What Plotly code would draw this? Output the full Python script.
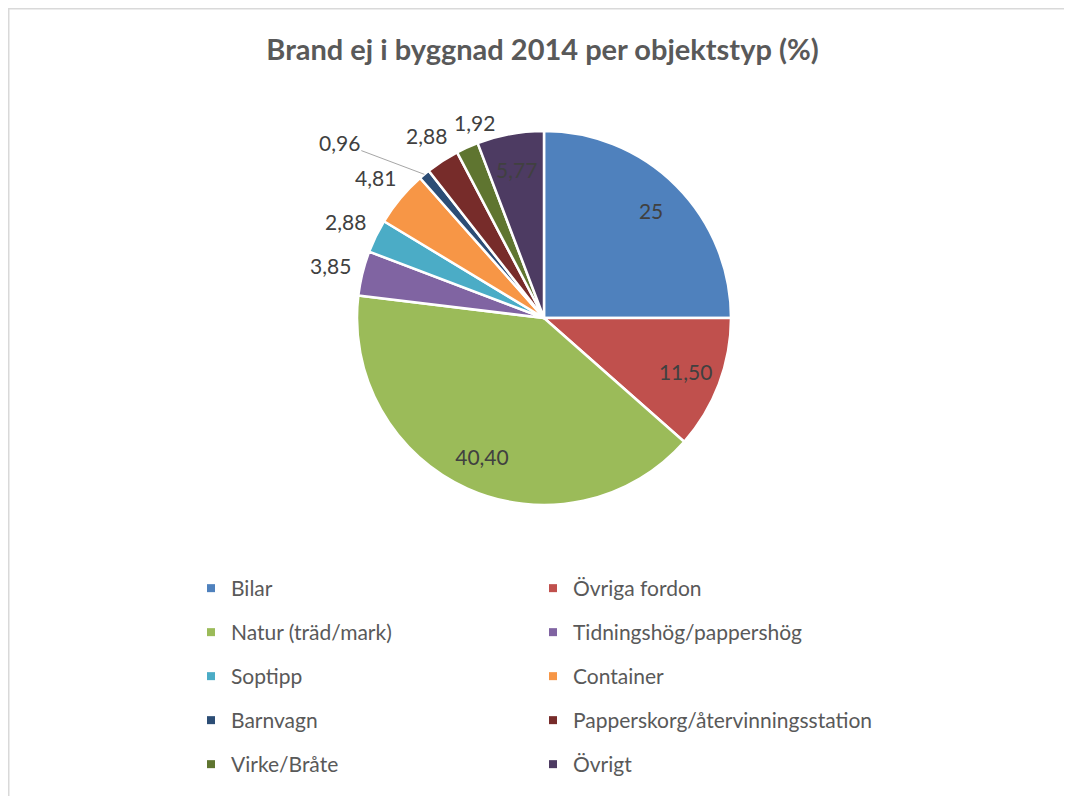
import math
import plotly.graph_objects as go

categories = ["Bilar", "Övriga fordon", "Natur (träd/mark)", "Tidningshög/pappershög",
              "Soptipp", "Container", "Barnvagn", "Papperskorg/återvinningsstation",
              "Virke/Bråte", "Övrigt"]
values = [25, 11.50, 40.40, 3.85, 2.88, 4.81, 0.96, 2.88, 1.92, 5.77]
colors = ["#4F81BD", "#C0504D", "#9BBB59", "#8064A2", "#4BACC6",
          "#F79646", "#2C4D75", "#772C2A", "#5F7530", "#4D3B62"]
# where each data label sits: in the ring trace, inside (by annotation), outside
label_mode = ["ring", "ring", "ring", "out", "out", "out", "out", "out", "out", "in"]


def fmt(v):
    if float(v).is_integer():
        return str(int(v))
    return f"{v:.2f}".replace(".", ",")


labels_txt = [fmt(v) for v in values]
text_ring = [t if m == "ring" else "" for t, m in zip(labels_txt, label_mode)]

# figure sits inside the page body (8px default margin)
W, H = 1064, 788
FONT = "Lato"
FS = 21
LBL_FONT = dict(color="#404040", size=FS, family=FONT)
cx, cy, r = 536, 310, 187
dom = dict(x=[(cx - r) / W, (cx + r) / W], y=[1 - (cy + r) / H, 1 - (cy - r) / H])

fig = go.Figure()
fig.add_trace(go.Pie(
    labels=categories, values=values, textinfo="none",
    sort=False, direction="clockwise", rotation=0,
    marker=dict(colors=colors, line=dict(color="white", width=2.5)),
    domain=dom, showlegend=False, hoverinfo="label+value",
))
# transparent ring carrying the large inside labels (placed toward the rim, as in the original)
fig.add_trace(go.Pie(
    labels=categories, values=values, text=text_ring, textinfo="text",
    textposition="inside", sort=False, direction="clockwise", rotation=0, hole=0.62,
    marker=dict(colors=["rgba(0,0,0,0)"] * len(values), line=dict(width=0)),
    insidetextfont=LBL_FONT, insidetextorientation="horizontal",
    domain=dom, showlegend=False, hoverinfo="skip",
))


def text_w(t):
    return sum(0.25 * FS if ch == "," else 0.58 * FS for ch in t)


# remaining data labels, positioned from each slice's mid angle
total = sum(values)
annotations = []
cum = 0.0
prev_box = None
for i, v in enumerate(values):
    th = math.radians((cum + v / 2) / total * 360.0)
    cum += v
    s, c = math.sin(th), math.cos(th)
    mode = label_mode[i]
    if mode == "ring":
        continue
    if labels_txt[i] == "0,96":
        # label pushed aside with a leader line to the slice
        annotations.append(dict(
            x=(cx + r * s) / W, y=1 - (cy - r * c) / H, xref="paper", yref="paper",
            text=labels_txt[i], showarrow=True, ax=-85, ay=-32, arrowhead=0,
            arrowwidth=1, arrowcolor="#A6A6A6", standoff=0, font=LBL_FONT))
        continue
    d = 0.81 * r if mode == "in" else r + 10 + 21 * abs(s) + 10 * abs(c)
    px, py = cx + d * s, cy - d * c
    if mode == "out":
        hw, hh = text_w(labels_txt[i]) / 2, FS * 0.6
        if prev_box is not None:
            x0, y0, x1, y1 = prev_box
            if px - hw < x1 + 6 and abs(py - (y0 + y1) / 2) < 2 * hh:
                px = x1 + 6 + hw  # avoid overlap with the previous label
        prev_box = (px - hw, py - hh, px + hw, py + hh)
    annotations.append(dict(
        x=px / W, y=1 - py / H, xref="paper", yref="paper",
        text=labels_txt[i], showarrow=False, xanchor="center", yanchor="middle",
        font=LBL_FONT))

# legend entries (two columns)
for i, (cat, col) in enumerate(zip(categories, colors)):
    fig.add_trace(go.Scatter(
        x=[None], y=[None], mode="markers", name=cat,
        marker=dict(symbol="square", size=8, color=col),
        legendgroup=f"g{i}", showlegend=True,
        legend="legend" if i % 2 == 0 else "legend2",
    ))

legend_common = dict(
    orientation="v", font=dict(size=21, color="#595959", family=FONT),
    tracegroupgap=13.7, itemwidth=30, bgcolor="rgba(0,0,0,0)",
    yanchor="top", xanchor="left",
)
fig.update_layout(
    width=W, height=H,
    margin=dict(l=0, r=0, t=0, b=0),
    paper_bgcolor="white", plot_bgcolor="white",
    title=dict(text="<b>Brand ej i byggnad 2014 per objektstyp (%)</b>",
               x=534.5 / W, xanchor="center", y=1 - 42 / H, yanchor="middle",
               font=dict(size=29, color="#595959", family=FONT)),
    xaxis=dict(visible=False), yaxis=dict(visible=False),
    legend=dict(x=183 / W, y=1 - 560 / H, **legend_common),
    legend2=dict(x=525 / W, y=1 - 560 / H, **legend_common),
    annotations=annotations,
    shapes=[
        dict(type="line", xref="paper", yref="paper", x0=0, x1=1062 / W,
             y0=1 - 0.75 / H, y1=1 - 0.75 / H, line=dict(color="#D9D9D9", width=1.5)),
        dict(type="line", xref="paper", yref="paper", x0=0.75 / W, x1=0.75 / W,
             y0=1, y1=0, line=dict(color="#D9D9D9", width=1.5)),
    ],
)

fig.write_html("out.html")
